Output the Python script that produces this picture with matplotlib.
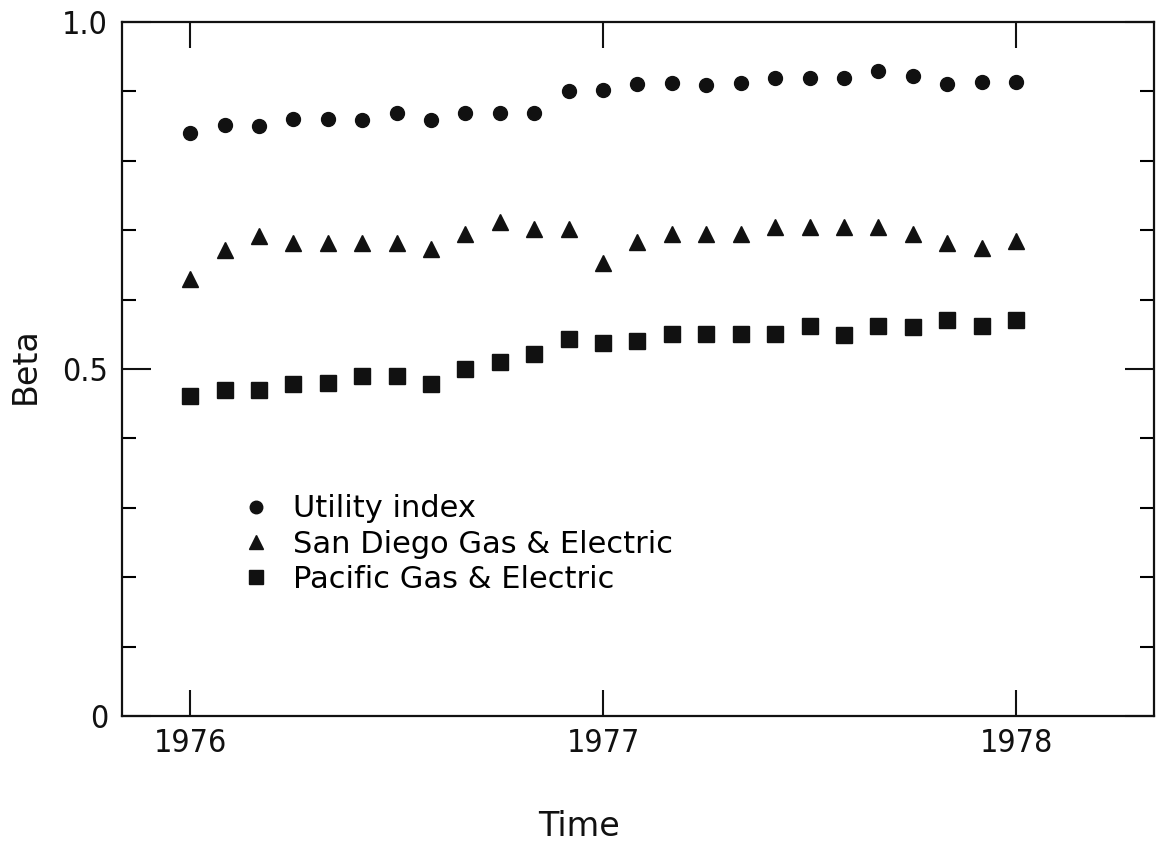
import numpy as np
import matplotlib
matplotlib.use("Agg")
import matplotlib.pyplot as plt
from matplotlib.ticker import FixedLocator

# monthly observations, Jan 1976 .. Jan 1978
months = 1976 + np.arange(25) / 12.0

utility_index = [0.840, 0.852, 0.850, 0.860, 0.860, 0.859, 0.869, 0.859, 0.869,
                 0.869, 0.869, 0.901, 0.902, 0.911, 0.912, 0.909, 0.912, 0.920,
                 0.920, 0.920, 0.930, 0.922, 0.911, 0.913, 0.913]
san_diego = [0.630, 0.671, 0.692, 0.682, 0.682, 0.682, 0.682, 0.673, 0.694,
             0.712, 0.702, 0.701, 0.652, 0.683, 0.695, 0.695, 0.695, 0.704,
             0.704, 0.704, 0.704, 0.694, 0.681, 0.674, 0.684]
pacific = [0.461, 0.470, 0.470, 0.478, 0.480, 0.490, 0.490, 0.478, 0.500,
           0.510, 0.522, 0.543, 0.538, 0.540, 0.551, 0.551, 0.551, 0.551,
           0.562, 0.549, 0.562, 0.560, 0.570, 0.562, 0.570]

labels = ["Utility index", "San Diego Gas & Electric", "Pacific Gas & Electric"]
year_ticks = [1976, 1977, 1978]
beta_ticks = [0, 0.5, 1.0]
beta_labels = ["0", "0.5", "1.0"]

ink = "#111111"

fig = plt.figure(figsize=(11.57, 8.46), dpi=100)
ax = fig.add_axes([0.1054, 0.1537, 0.892, 0.8203])

ax.plot(months, utility_index, linestyle="none", marker="o", ms=10,
        color=ink, label=labels[0])
ax.plot(months, san_diego, linestyle="none", marker="^", ms=11.5,
        color=ink, label=labels[1])
ax.plot(months, pacific, linestyle="none", marker="s", ms=11,
        color=ink, label=labels[2])

ax.set_xlim(1975.835, 1978.334)
ax.set_ylim(0, 1.0)

# tall narrow digits as in the original lettering
ax.set_xticks(year_ticks)
ax.set_xticklabels([str(y) for y in year_ticks], family="DejaVu Sans",
                   stretch="condensed", fontsize=23)
ax.set_yticks(beta_ticks)
ax.set_yticklabels(beta_labels, family="DejaVu Sans", stretch="condensed",
                   fontsize=23)
ax.yaxis.set_minor_locator(FixedLocator(np.arange(0.1, 1.0, 0.1)))

ax.tick_params(axis="x", which="major", direction="in", length=19, width=1.5,
               top=True, pad=9, colors=ink)
ax.tick_params(axis="y", which="major", direction="in", length=21, width=1.5,
               right=True, pad=10, colors=ink)
ax.tick_params(axis="y", which="minor", direction="in", length=10, width=1.5,
               right=True)

for s in ax.spines.values():
    s.set_linewidth(1.6)
    s.set_color(ink)

fig.text(0.5, 0.0118, "Time", ha="center", va="baseline", fontsize=24,
         color=ink)
fig.text(0.0216, 1 - 366 / 846, "Beta", ha="center", va="center",
         rotation=90, fontsize=24, color=ink)

ax.legend(loc="center left", bbox_to_anchor=(0.2083, 1 - 544 / 846),
          bbox_transform=fig.transFigure, frameon=False, fontsize=22,
          handlelength=1.0, handletextpad=0.7, labelspacing=0.2,
          borderpad=0, borderaxespad=0, markerscale=0.9)

fig.savefig("out.png", dpi=100)
